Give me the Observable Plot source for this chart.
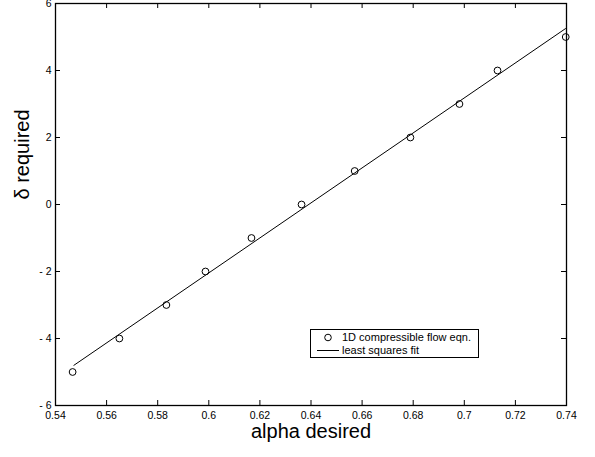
<!DOCTYPE html>
<html>
<head>
<meta charset="utf-8">
<script src="https://cdn.jsdelivr.net/npm/d3@7"></script>
<script src="https://cdn.jsdelivr.net/npm/@observablehq/plot@0.6"></script>
<style>
  html, body { margin: 0; padding: 0; background: #fff; }
  #wrap { position: relative; width: 595px; height: 457px; }
  #legend {
    position: absolute; left: 310px; top: 329px; width: 169px; height: 29px;
    border: 1px solid #000; background: #fff;
    font-family: "Liberation Sans", Arial, sans-serif; font-size: 11px; color: #000;
    box-sizing: border-box; line-height: 12px;
  }
  #legend .row { position: absolute; left: 0; white-space: nowrap; }
  #legend .sym { position: absolute; }
  #legend .lab { position: absolute; left: 31px; }
</style>
</head>
<body>
<div id="wrap">
  <div id="chart"></div>
  <div id="legend">
    <div class="row" style="top:1px;">
      <svg class="sym" style="left:11px;top:1px" width="12" height="10"><circle cx="6" cy="5.5" r="3.3" fill="none" stroke="#000" stroke-width="1"/></svg>
      <span class="lab" style="top:0px">1D compressible flow eqn.</span>
    </div>
    <div class="row" style="top:14px;">
      <svg class="sym" style="left:6px;top:0px" width="22" height="10"><line x1="0" x2="22" y1="6.5" y2="6.5" stroke="#000" stroke-width="1"/></svg>
      <span class="lab" style="top:0px">least squares fit</span>
    </div>
  </div>
</div>
<script>
// Data
const alpha = [0.5467, 0.565, 0.5834, 0.5987, 0.6167, 0.6363, 0.6571, 0.6789, 0.6981, 0.713, 0.7397];
const delta = [-5, -4, -3, -2, -1, 0, 1, 2, 3, 4, 5];
const fitAlpha = [0.5472, 0.7396];
const fitDelta = [-4.8, 5.25];
const xTicks = [0.54, 0.56, 0.58, 0.6, 0.62, 0.64, 0.66, 0.68, 0.7, 0.72, 0.74];
const yTicks = [-6, -4, -2, 0, 2, 4, 6];

const points = alpha.map((a, i) => ({a, d: delta[i]}));
const fit = fitAlpha.map((a, i) => ({a, d: fitDelta[i]}));

const W = 595, H = 457;
const mL = 55, mR = 29, mT = 3, mB = 52;
const plotW = W - mL - mR, plotH = H - mT - mB;
const tk = 5;

const font = "'Liberation Sans', Arial, sans-serif";
const yFmt = d => d < 0 ? "- " + (-d) : String(d);

const chart = Plot.plot({
  width: W, height: H,
  marginLeft: mL, marginRight: mR, marginTop: mT, marginBottom: mB,
  style: {fontFamily: font, color: "#000", background: "#fff", overflow: "visible"},
  x: {domain: [0.54, 0.74]},
  y: {domain: [-6, 6]},
  marks: [
    Plot.tickX(xTicks.slice(1, -1), {x: d => d, insetTop: plotH - tk, stroke: "#000"}),
    Plot.tickX(xTicks.slice(1, -1), {x: d => d, insetBottom: plotH - tk, stroke: "#000"}),
    Plot.tickY(yTicks.slice(1, -1), {y: d => d, insetRight: plotW - tk, stroke: "#000"}),
    Plot.tickY(yTicks.slice(1, -1), {y: d => d, insetLeft: plotW - tk, stroke: "#000"}),
    Plot.axisX(xTicks, {tickSize: 0, tickPadding: 6, tickFormat: d => String(d), fontSize: 10.5, label: null}),
    Plot.axisY(yTicks, {tickSize: 0, tickPadding: 4, tickFormat: yFmt, fontSize: 10.5, label: null}),
    Plot.line(fit, {x: "a", y: "d", stroke: "#000", strokeWidth: 1}),
    Plot.dot(points, {x: "a", y: "d", r: 3.4, stroke: "#000", fill: "none", strokeWidth: 1}),
    Plot.frame({stroke: "#000", strokeWidth: 1.3}),
    Plot.text(["alpha desired"], {frameAnchor: "bottom", dy: 32, fontSize: 20, fill: "#000"}),
    Plot.text(["δ required"], {frameAnchor: "left", dx: -33, dy: -5, rotate: -90, fontSize: 20, fill: "#000"})
  ]
});
document.getElementById("chart").appendChild(chart);
</script>
</body>
</html>
